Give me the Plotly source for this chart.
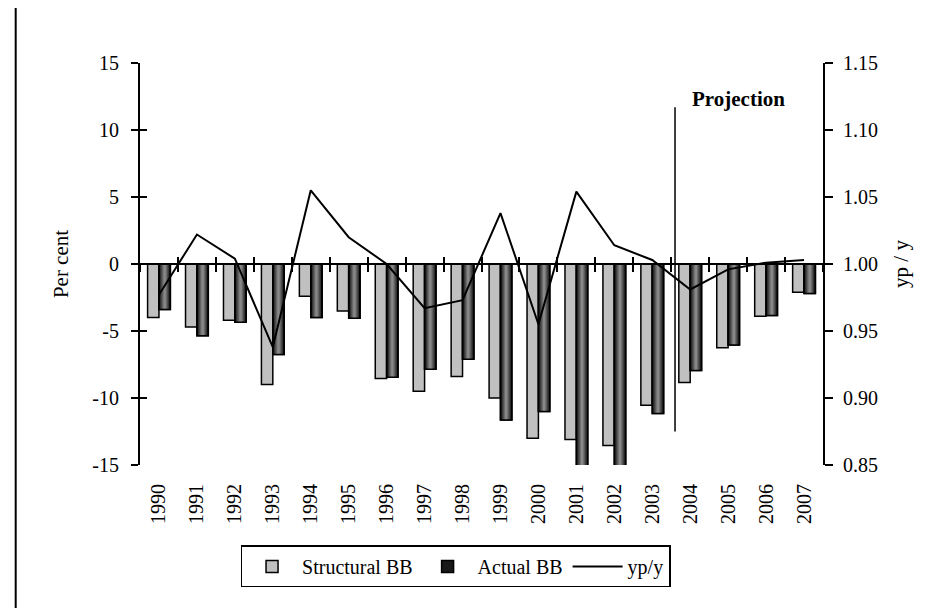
import plotly.graph_objects as go

years = [str(y) for y in range(1990, 2008)]
structural_bb = [-4.0, -4.7, -4.2, -9.0, -2.4, -3.5, -8.55, -9.5, -8.4, -10.0,
                 -13.0, -13.1, -13.55, -10.55, -8.85, -6.25, -3.9, -2.1]
actual_bb = [-3.4, -5.35, -4.35, -6.75, -4.0, -4.05, -8.45, -7.85, -7.1, -11.65,
             -11.0, -15.5, -15.1, -11.15, -7.95, -6.05, -3.85, -2.2]
yp_y = [0.977, 1.022, 1.004, 0.938, 1.055, 1.020, 1.000, 0.967, 0.973, 1.038,
        0.955, 1.054, 1.014, 1.003, 0.981, 0.996, 1.001, 1.003]
left_ticks = [-15, -10, -5, 0, 5, 10, 15]
right_ticks = [0.85, 0.90, 0.95, 1.00, 1.05, 1.10, 1.15]

FONT = "Liberation Serif, Times New Roman, serif"
BAR_W = 0.3
xpos = list(range(len(years)))
bounds = [i - 0.5 for i in range(len(years) + 1)]

fig = go.Figure()

fig.add_trace(go.Bar(
    x=xpos, y=structural_bb, name="Structural BB",
    offset=-BAR_W, width=BAR_W,
    marker=dict(color="#C0C0C0", line=dict(color="black", width=1.5)),
))

# dark bars with a fake horizontal gradient: lighter, narrower layers on top
shades = [("#181818", 1.0), ("#333333", 0.8), ("#4f4f4f", 0.6), ("#6c6c6c", 0.4), ("#888888", 0.2)]
for i, (col, f) in enumerate(shades):
    w = BAR_W * f
    fig.add_trace(go.Bar(
        x=xpos, y=actual_bb, name="Actual BB",
        offset=(BAR_W - w) / 2, width=w,
        showlegend=(i == 0),
        marker=dict(color=col, line=dict(color="black", width=1.5 if i == 0 else 0)),
    ))
fig.add_trace(go.Bar(
    x=xpos, y=actual_bb, showlegend=False, offset=0, width=BAR_W,
    marker=dict(color="rgba(0,0,0,0)", line=dict(color="black", width=1.5)),
))

fig.add_trace(go.Scatter(
    x=xpos, y=yp_y, name="yp/y", mode="lines", yaxis="y2",
    line=dict(color="black", width=2),
))

# empty helpers so the tick-only axes get drawn
fig.add_trace(go.Scatter(x=[], y=[], xaxis="x2", showlegend=False))
fig.add_trace(go.Scatter(x=[], y=[], xaxis="x3", showlegend=False))
fig.add_trace(go.Scatter(x=[], y=[], yaxis="y3", showlegend=False))

# projection marker
proj_x = 13.6
fig.add_shape(type="line", xref="x", yref="y", x0=proj_x, x1=proj_x, y0=-12.5, y1=11.7,
              line=dict(color="black", width=1.5))
fig.add_annotation(x=14.0, y=12.3, xref="x", yref="y", text="<b>Projection</b>",
                   showarrow=False, xanchor="left", font=dict(size=21, color="black"))

# page border on the left
fig.add_shape(type="line", xref="paper", yref="paper", x0=-0.182, x1=-0.182, y0=-0.4, y1=1.2,
              line=dict(color="black", width=2))

xr = [-0.5, len(years) - 0.5]
tick_axis = dict(range=xr, overlaying="x", anchor="free", position=0.5, tickmode="array",
                 tickvals=bounds, ticklen=7, tickwidth=1.5, tickcolor="black",
                 showticklabels=False, showgrid=False, zeroline=False)

fig.update_layout(
    width=941, height=608,
    paper_bgcolor="white", plot_bgcolor="white",
    font=dict(family=FONT, size=20, color="black"),
    margin=dict(l=132, r=126, t=55, b=151),
    barmode="overlay",
    showlegend=True,
    legend=dict(orientation="h", x=0.462, xanchor="center", y=-0.2, yanchor="top",
                bordercolor="black", borderwidth=1.5, font=dict(size=20),
                itemwidth=50, traceorder="normal"),
    xaxis=dict(range=xr, tickmode="array", tickvals=xpos, ticktext=years, tickangle=-90,
               showline=False, ticks="", showgrid=False, zeroline=False,
               ticklabelstandoff=14, tickfont=dict(size=20)),
    xaxis2=dict(tick_axis, ticks="outside", showline=True, linecolor="black", linewidth=2),
    xaxis3=dict(tick_axis, ticks="inside", showline=False),
    yaxis=dict(range=[-15, 15], tickmode="array", tickvals=left_ticks,
               ticktext=[str(v) for v in left_ticks], ticks="outside",
               ticklen=7, tickwidth=1.5, tickcolor="black", showline=True, linecolor="black",
               linewidth=2, showgrid=False, zeroline=False, ticklabelstandoff=8,
               title=dict(text="Per cent", standoff=18, font=dict(size=21, color="black"))),
    yaxis3=dict(range=[-15, 15], overlaying="y", side="left", anchor="x",
                tickmode="array", tickvals=left_ticks, ticks="inside", ticklen=7,
                tickwidth=1.5, tickcolor="black", showticklabels=False, showline=False,
                showgrid=False, zeroline=False),
    yaxis2=dict(range=[0.85, 1.15], overlaying="y", side="right", anchor="x",
                tickmode="array", tickvals=right_ticks, tickformat=".2f",
                ticks="outside", ticklen=8, tickwidth=1.5, tickcolor="black",
                showline=True, linecolor="black", linewidth=2, showgrid=False, zeroline=False,
                ticklabelstandoff=6,
                title=dict(text="yp / y", standoff=16, font=dict(size=21, color="black"))),
)

fig.write_html("out.html")
